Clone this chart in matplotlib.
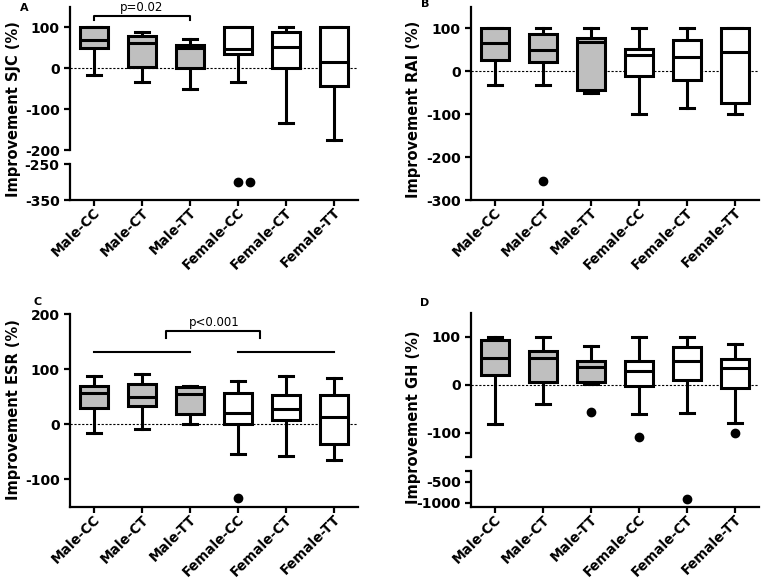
import numpy as np
import matplotlib
matplotlib.use('Agg')
import matplotlib.pyplot as plt
from matplotlib.transforms import ScaledTranslation

# groups on the x axis
groups = ['Male-CC', 'Male-CT', 'Male-TT', 'Female-CC', 'Female-CT', 'Female-TT']

# A - improvement SJC (%)
sjc_whislo = [-16, -33, -51, -33, -133, -175]
sjc_q1 = [49, 4, 0, 35, 0, -43]
sjc_med = [70, 61, 49, 47, 53, 16]
sjc_q3 = [100, 78, 57, 100, 90, 100]
sjc_whishi = [100, 90, 72, 100, 100, 100]
sjc_fliers = [[], [], [], [-300, -300], [], []]

# B - improvement RAI (%)
rai_whislo = [-33, -33, -50, -100, -86, -100]
rai_q1 = [26, 22, -43, -10, -20, -74]
rai_med = [67, 50, 69, 38, 34, 44]
rai_q3 = [100, 86, 77, 52, 73, 100]
rai_whishi = [100, 100, 100, 100, 100, 100]
rai_fliers = [[], [-255], [], [], [], []]

# C - improvement ESR (%)
esr_whislo = [-16, -9, 0, -53, -58, -65]
esr_q1 = [30, 33, 18, 0, 7, -35]
esr_med = [57, 50, 55, 21, 28, 13]
esr_q3 = [70, 73, 67, 56, 54, 53]
esr_whishi = [87, 92, 69, 79, 87, 84]
esr_fliers = [[], [], [], [-134], [], []]

# D - improvement GH (%)
gh_whislo = [-81, -40, 3, -61, -59, -80]
gh_q1 = [21, 6, 7, -3, 10, -6]
gh_med = [56, 57, 38, 29, 50, 36]
gh_q3 = [93, 70, 50, 50, 79, 55]
gh_whishi = [100, 100, 81, 99, 99, 85]
gh_fliers = [[], [], [-56], [-108], [-910], [-99]]

plt.rcParams['font.family'] = 'DejaVu Sans'
plt.rcParams['font.weight'] = 'bold'

W, H = 761.0, 580.0
fig = plt.figure(figsize=(W / 100, H / 100), dpi=100)
pos = np.arange(1, len(groups) + 1)
LW = 2.2


def px_axes(x0, y0, x1, y1):
    # pixel box, origin top-left
    return fig.add_axes([x0 / W, 1 - y1 / H, (x1 - x0) / W, (y1 - y0) / H])


def draw_boxes(ax, lo, q1, med, q3, hi):
    stats = []
    for i in range(len(groups)):
        stats.append(dict(med=med[i], q1=q1[i], q3=q3[i], whislo=lo[i], whishi=hi[i], fliers=[]))
    line = dict(color='black', linewidth=LW)
    bp = ax.bxp(stats, positions=pos, widths=0.6, capwidths=0.3, patch_artist=True,
                showfliers=False, manage_ticks=False,
                boxprops=dict(edgecolor='black', linewidth=LW),
                medianprops=line, whiskerprops=line, capprops=line)
    for i, b in enumerate(bp['boxes']):
        b.set_facecolor('#bfbfbf' if i < 3 else 'white')
        b.set_zorder(3)
    for m in bp['medians']:
        m.set_zorder(4)
    ax.axhline(0, color='black', lw=0.8, ls=(0, (2, 1.5)), zorder=2)


def draw_fliers(ax, fliers):
    # repeated values sit side by side, like the original
    ylo, yhi = ax.get_ylim()
    for i, vals in enumerate(fliers):
        for k, v in enumerate(vals):
            if ylo <= v <= yhi:
                ax.plot(pos[i] + k * 0.24, v, 'o', color='black', ms=6, zorder=5)


def style(ax, bottom=True):
    ax.spines['top'].set_visible(False)
    ax.spines['right'].set_visible(False)
    ax.spines['left'].set_linewidth(1.6)
    ax.spines['bottom'].set_linewidth(1.6)
    ax.tick_params(width=1.6, length=4, labelsize=10)
    ax.set_xlim(0.5, 6.5)
    if bottom:
        ax.set_xticks(pos)
        ax.set_xticklabels(groups, rotation=45, ha='right', va='center',
                           rotation_mode='anchor', fontweight='bold', fontsize=9.8)
        ax.tick_params(axis='x', pad=3.5)
        shift = ScaledTranslation(3 / 72, 0, fig.dpi_scale_trans)
        for lab in ax.get_xticklabels():
            lab.set_transform(lab.get_transform() + shift)
    else:
        ax.spines['bottom'].set_visible(False)
        ax.tick_params(axis='x', bottom=False, labelbottom=False)
    ax.patch.set_alpha(0)


def ylabels(ax, ticks, labels=None):
    ax.set_yticks(ticks)
    ax.set_yticklabels(labels if labels else [str(t) for t in ticks], fontweight='bold')


# ---- A (broken axis)
axA = px_axes(70, 7, 358, 150)
axA2 = px_axes(70, 164, 358, 200)
axA.set_ylim(-200, 150)
axA2.set_ylim(-350, -250)
draw_boxes(axA, sjc_whislo, sjc_q1, sjc_med, sjc_q3, sjc_whishi)
draw_fliers(axA, sjc_fliers)
draw_fliers(axA2, sjc_fliers)
axA.set_ylim(-200, 150)
axA2.set_ylim(-350, -250)
style(axA, bottom=False)
style(axA2)
ylabels(axA, [-200, -100, 0, 100])
ylabels(axA2, [-350, -250])
axA.plot([1, 1, 3, 3], [119, 129, 129, 119], color='black', lw=1.5, clip_on=False)
axA.text(2, 133, 'p=0.02', ha='center', va='bottom', fontsize=8.5, fontweight='normal', clip_on=False)

# ---- B
axB = px_axes(471, 7, 759, 200)
axB.set_ylim(-300, 150)
draw_boxes(axB, rai_whislo, rai_q1, rai_med, rai_q3, rai_whishi)
draw_fliers(axB, rai_fliers)
axB.set_ylim(-300, 150)
style(axB)
ylabels(axB, [-300, -200, -100, 0, 100])

# ---- C
axC = px_axes(70, 314, 358, 507)
axC.set_ylim(-150, 200)
draw_boxes(axC, esr_whislo, esr_q1, esr_med, esr_q3, esr_whishi)
draw_fliers(axC, esr_fliers)
axC.set_ylim(-150, 200)
style(axC)
ylabels(axC, [-100, 0, 100, 200])
axC.plot([1, 3], [131, 131], color='black', lw=1.5)
axC.plot([4, 6], [131, 131], color='black', lw=1.5)
axC.plot([2.5, 2.5, 4.45, 4.45], [156, 169, 169, 156], color='black', lw=1.5)
axC.text(3.5, 173, 'p<0.001', ha='center', va='bottom', fontsize=8.5, fontweight='normal')

# ---- D (broken axis)
axD = px_axes(471, 313, 759, 457)
axD2 = px_axes(471, 471, 759, 507)
axD.set_ylim(-150, 150)
axD2.set_ylim(-1107, -240)
draw_boxes(axD, gh_whislo, gh_q1, gh_med, gh_q3, gh_whishi)
draw_fliers(axD, gh_fliers)
draw_fliers(axD2, gh_fliers)
axD.set_ylim(-150, 150)
axD2.set_ylim(-1107, -240)
style(axD, bottom=False)
style(axD2)
ylabels(axD, [-150, -100, 0, 100], ['', '-100', '0', '100'])
ylabels(axD2, [-1000, -500, -240], ['-1000', '-500', ''])

# y labels and panel letters
fig.text(14 / W, 1 - 109 / H, 'Improvement SJC (%)', rotation=90, ha='center', va='center', fontsize=10.5)
fig.text(414 / W, 1 - 109 / H, 'Improvement RAI (%)', rotation=90, ha='center', va='center', fontsize=10.5)
fig.text(14 / W, 1 - 410 / H, 'Improvement ESR (%)', rotation=90, ha='center', va='center', fontsize=10.5)
fig.text(414 / W, 1 - 417 / H, 'Improvement GH (%)', rotation=90, ha='center', va='center', fontsize=10.5)
fig.text(24 / W, 1 - 8 / H, 'A', ha='center', va='center', fontsize=8)
fig.text(425 / W, 1 - 4 / H, 'B', ha='center', va='center', fontsize=8)
fig.text(38 / W, 1 - 302 / H, 'C', ha='center', va='center', fontsize=8)
fig.text(425 / W, 1 - 303 / H, 'D', ha='center', va='center', fontsize=8)

fig.savefig('out.png', dpi=100)
